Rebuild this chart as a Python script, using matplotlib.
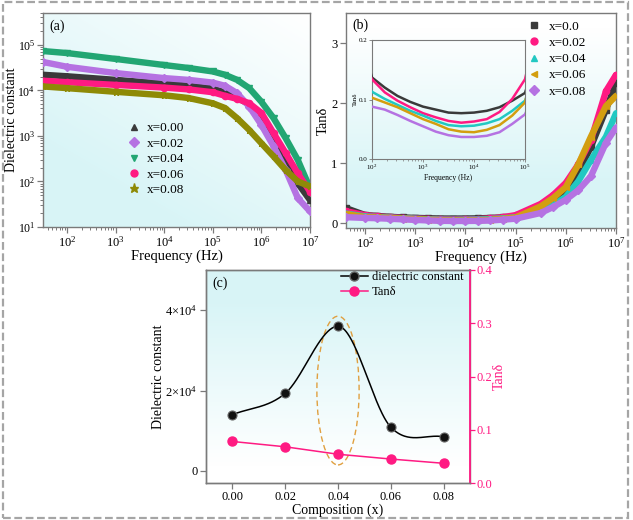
import numpy as np
import matplotlib
matplotlib.use('Agg')
import matplotlib.pyplot as plt
from matplotlib.lines import Line2D
from matplotlib.patches import Ellipse, Rectangle
import matplotlib.ticker as mt

plt.rcParams['font.family'] = ['Liberation Serif', 'DejaVu Serif']
plt.rcParams['mathtext.fontset'] = 'stix'

# ---------------- data ----------------
# (a) dielectric constant vs frequency
freq_a = [32, 100, 1e3, 1e4, 3.16e4, 1e5, 1.78e5, 3.16e5, 5.62e5, 1e6, 1.78e6, 3.16e6, 5.62e6, 1e7]
eps_000 = [2.2e4, 2.04e4, 1.7e4, 1.41e4, 1.26e4, 1.1e4, 8.9e3, 7.2e3, 4.8e3, 2.24e3, 890, 295, 91, 39]
eps_002 = [4.2e4, 3.3e4, 2.4e4, 1.86e4, 1.7e4, 1.48e4, 1.26e4, 8.7e3, 4.4e3, 1.74e3, 590, 178, 43, 22]
eps_004 = [7.3e4, 6.6e4, 4.9e4, 3.6e4, 3.1e4, 2.6e4, 2.2e4, 1.7e4, 1.12e4, 5.6e3, 2.45e3, 890, 295, 71]
eps_006 = [1.63e4, 1.51e4, 1.32e4, 1.15e4, 1.05e4, 9.1e3, 7.6e3, 6.5e3, 5.2e3, 3.2e3, 1.15e3, 420, 150, 60]
eps_008 = [1.22e4, 1.12e4, 9.3e3, 7.8e3, 6.8e3, 5.2e3, 4.1e3, 2.45e3, 1.35e3, 690, 355, 178, 100, 78]
labels_a = ['x=0.00', 'x=0.02', 'x=0.04', 'x=0.06', 'x=0.08']

# (b) tan delta vs frequency
freq_b = [42, 100, 178, 316, 562, 1e3, 1.78e3, 3.16e3, 5.62e3, 1e4, 1.78e4, 3.16e4, 5.62e4, 1e5,
          3.16e5, 5.62e5, 1e6, 1.78e6, 3.16e6, 6.31e6, 1e7]
tan_00 = [0.25, 0.137, 0.120, 0.106, 0.096, 0.088, 0.083, 0.078, 0.077, 0.078, 0.081, 0.087, 0.098, 0.111,
          0.25, 0.38, 0.55, 0.85, 1.27, 1.89, 2.33]
tan_02 = [0.20, 0.134, 0.112, 0.098, 0.087, 0.077, 0.070, 0.064, 0.061, 0.063, 0.067, 0.079, 0.101, 0.134,
          0.32, 0.47, 0.67, 0.98, 1.38, 2.20, 2.47]
tan_04 = [0.16, 0.113, 0.101, 0.091, 0.081, 0.073, 0.064, 0.057, 0.055, 0.056, 0.060, 0.067, 0.081, 0.098,
          0.20, 0.30, 0.44, 0.70, 1.05, 1.44, 1.83]
tan_06 = [0.15, 0.103, 0.095, 0.087, 0.077, 0.067, 0.059, 0.050, 0.046, 0.045, 0.049, 0.057, 0.073, 0.095,
          0.28, 0.42, 0.60, 0.98, 1.44, 1.95, 2.12]
tan_08 = [0.10, 0.088, 0.083, 0.074, 0.064, 0.055, 0.046, 0.040, 0.037, 0.037, 0.039, 0.045, 0.059, 0.075,
          0.17, 0.27, 0.39, 0.55, 0.78, 1.34, 1.59]
labels_b = ['x=0.0', 'x=0.02', 'x=0.04', 'x=0.06', 'x=0.08']

# (c) composition dependence
comp = [0.00, 0.02, 0.04, 0.06, 0.08]
eps_c = [14000, 19300, 36000, 10900, 8500]
tan_c = [0.078, 0.068, 0.054, 0.045, 0.037]

# ---------------- style ----------------
SPINE = '#7a7a7a'
C_BLK = '#3a3a3a'
C_PUR = '#B572E2'
C_GRN = '#22A673'
C_PNK = '#FF1A82'
C_OLV = '#8E8A06'
C_CYN = '#22C8C2'
C_GLD = '#D39E10'
CYAN_BG = np.array([0.85, 0.96, 0.968])


def smooth_curve(x, y, n=300):
    """Cardinal (Catmull-Rom) Hermite curve through the points, flat at local extrema."""
    x = np.asarray(x, float); y = np.asarray(y, float)
    m = len(x)
    t = np.zeros(m)
    t[0] = (y[1] - y[0]) / (x[1] - x[0])
    t[-1] = (y[-1] - y[-2]) / (x[-1] - x[-2])
    for i in range(1, m - 1):
        if (y[i] - y[i - 1]) * (y[i + 1] - y[i]) <= 0:
            t[i] = 0.0
        else:
            t[i] = (y[i + 1] - y[i - 1]) / (x[i + 1] - x[i - 1])
    xs = np.linspace(x[0], x[-1], n)
    idx = np.clip(np.searchsorted(x, xs) - 1, 0, m - 2)
    h = x[idx + 1] - x[idx]
    s = (xs - x[idx]) / h
    h00 = 2 * s ** 3 - 3 * s ** 2 + 1
    h10 = s ** 3 - 2 * s ** 2 + s
    h01 = -2 * s ** 3 + 3 * s ** 2
    h11 = s ** 3 - s ** 2
    ys = h00 * y[idx] + h10 * h * t[idx] + h01 * y[idx + 1] + h11 * h * t[idx + 1]
    return xs, ys


def bg(pos, mode):
    axb = fig.add_axes(pos, zorder=-5)
    axb.set_axis_off()
    n = 120
    yy, xx = np.mgrid[0:1:n * 1j, 0:1:n * 1j]
    if mode == 'diag':
        t = np.clip((1 - xx) * 0.55 + (1 - yy) * 0.75, 0, 1)
    elif mode == 'up':
        t = np.clip((1 - yy) * 1.4 - 0.1, 0, 1)
    else:
        t = np.clip(yy * 1.3 - 0.1, 0, 1)
    img = np.ones(3)[None, None, :] * (1 - t[..., None]) + CYAN_BG[None, None, :] * t[..., None]
    axb.imshow(img, extent=[0, 1, 0, 1], origin='lower', aspect='auto', interpolation='bilinear')
    axb.set_xlim(0, 1); axb.set_ylim(0, 1)


def style(ax, fs=9.0):
    for s in ax.spines.values():
        s.set_color(SPINE); s.set_linewidth(1.0)
    ax.tick_params(which='both', direction='out', color=SPINE, labelsize=fs, pad=2)
    ax.tick_params(which='major', length=4, width=0.9)
    ax.tick_params(which='minor', length=2.2, width=0.7)
    ax.tick_params(top=False, right=False)


fig = plt.figure(figsize=(6.33, 5.2), dpi=100)

# border
fig.patches.append(Rectangle((3 / 633, 2.5 / 520), 625 / 633, 515.5 / 520, transform=fig.transFigure,
                             fill=False, edgecolor='#a5a5a5', linewidth=1.6,
                             linestyle=(0, (3.5, 1.6)), zorder=10))

# ---------------- (a) ----------------
pos_a = [43 / 633, 1 - 227 / 520, 267 / 633, 214 / 520]
bg(pos_a, 'diag')
ax_a = fig.add_axes(pos_a)
ax_a.patch.set_alpha(0)
series_a = [(eps_000, C_BLK, '^'), (eps_002, C_PUR, 'D'), (eps_004, C_GRN, 'v'),
            (eps_006, C_PNK, 'o'), (eps_008, C_OLV, '*')]
handles = []
for (vals, col, mk), lab in zip(series_a, labels_a):
    ax_a.plot(freq_a, vals, '-', color=col, lw=4.6, solid_capstyle='round',
              marker=mk, ms=4.5, mec=col, mfc=col, zorder=3)
    handles.append(Line2D([], [], ls='none', marker=mk, color=col, ms=5 if mk != '*' else 6.5, label=lab))
ax_a.set_xscale('log'); ax_a.set_yscale('log')
ax_a.set_xlim(32, 1e7); ax_a.set_ylim(10, 5e5)
ax_a.set_xticks([1e2, 1e3, 1e4, 1e5, 1e6, 1e7])
ax_a.set_yticks([1e1, 1e2, 1e3, 1e4, 1e5])
style(ax_a)
ax_a.tick_params(axis='y', labelsize=8.5, pad=1.5)
ax_a.set_xlabel('Frequency (Hz)', fontsize=10.5, labelpad=0)
ax_a.set_ylabel('Dielectric constant', fontsize=10)
ax_a.yaxis.set_label_coords(-0.092, 0.5)
ax_a.text(0.025, 0.94, '(a)', transform=ax_a.transAxes, fontsize=10, va='center')
ax_a.legend(handles=handles, loc='upper left', bbox_to_anchor=(0.315, 0.49), frameon=False,
            fontsize=9.5, handlelength=1.0, handletextpad=0.5, labelspacing=0.24, borderpad=0,
            borderaxespad=0)

# ---------------- (b) ----------------
pos_b = [346 / 633, 1 - 228 / 520, 270 / 633, 215 / 520]
bg(pos_b, 'up')
ax_b = fig.add_axes(pos_b)
ax_b.patch.set_alpha(0)
series_b = [(tan_00, C_BLK, 's'), (tan_02, C_PNK, 'o'), (tan_04, C_CYN, '^'),
            (tan_06, C_GLD, '<'), (tan_08, C_PUR, 'D')]
handles_b = []
for (vals, col, mk), lab in zip(series_b, labels_b):
    ax_b.plot(freq_b, vals, '-', color=col, lw=4.6, solid_capstyle='round',
              marker=mk, ms=4.5, mec=col, mfc=col, zorder=3)
    handles_b.append(Line2D([], [], ls='none', marker=mk, color=col, ms=5, label=lab))
ax_b.set_xscale('log')
ax_b.set_xlim(42, 1e7); ax_b.set_ylim(-0.08, 3.5)
ax_b.set_xticks([1e2, 1e3, 1e4, 1e5, 1e6, 1e7])
ax_b.set_yticks([0, 1, 2, 3])
style(ax_b)
ax_b.set_xlabel('Frequency (Hz)', fontsize=10.5, labelpad=0)
ax_b.set_ylabel('Tanδ', fontsize=10.5)
ax_b.yaxis.set_label_coords(-0.06, 0.5)
ax_b.text(0.022, 0.944, '(b)', transform=ax_b.transAxes, fontsize=10, va='center')
ax_b.legend(handles=handles_b, loc='upper left', bbox_to_anchor=(0.672, 0.965), frameon=False,
            fontsize=9.5, handlelength=1.0, handletextpad=0.6, labelspacing=0.3, borderpad=0,
            borderaxespad=0)

# inset
ax_i = fig.add_axes([372 / 633, 1 - 159 / 520, 153 / 633, 119 / 520])
ax_i.patch.set_alpha(0)
for (vals, col, mk) in series_b:
    ax_i.plot(freq_b, vals, '-', color=col, lw=1.8, zorder=3)
ax_i.set_xscale('log')
ax_i.set_xlim(1e2, 1e5); ax_i.set_ylim(0, 0.2)
ax_i.set_xticks([1e2, 1e3, 1e4, 1e5])
ax_i.set_yticks([0.0, 0.1, 0.2])
ax_i.yaxis.set_major_formatter(mt.FormatStrFormatter('%.1f'))
for s in ax_i.spines.values():
    s.set_color(SPINE); s.set_linewidth(0.8)
ax_i.tick_params(which='both', direction='out', color=SPINE, labelsize=5, length=2, width=0.6, pad=1)
ax_i.tick_params(which='minor', length=1.2, width=0.5)
ax_i.set_xlabel('Frequency (Hz)', fontsize=5.5, labelpad=1)
ax_i.set_ylabel('Tanδ', fontsize=5, labelpad=1)

# ---------------- (c) ----------------
pos_c = [206 / 633, 1 - 483 / 520, 264 / 633, 213 / 520]
bg(pos_c, 'down')
ax_c = fig.add_axes(pos_c)
ax_c.patch.set_alpha(0)
xs, ys = smooth_curve(comp, eps_c)
ax_c.plot(xs, ys, '-', color='black', lw=1.1, zorder=3)
ax_c.plot(comp, eps_c, 'o', ms=6.5, mfc='#111111', mec='#666666', mew=0.8, zorder=4)
ax_c.add_patch(Ellipse((0.04, 20000), 0.016, 37000, fill=False, edgecolor='#E0A040',
                       linestyle=(0, (4, 2.5)), linewidth=1.0, zorder=2))
ax_c.set_xlim(-0.01, 0.09); ax_c.set_ylim(-3000, 50000)
ax_c.set_xticks(comp)
ax_c.xaxis.set_major_formatter(mt.FormatStrFormatter('%.2f'))
ax_c.set_yticks([0, 20000, 40000])
ax_c.set_yticklabels(['0', r'$\mathdefault{2{\times}10^{4}}$', r'$\mathdefault{4{\times}10^{4}}$'])
style(ax_c, fs=9.0)
ax_c.set_xlabel('Composition (x)', fontsize=10, labelpad=0)
ax_c.set_ylabel('Dielectric constant', fontsize=10)
ax_c.yaxis.set_label_coords(-0.155, 0.5)
ax_c.text(0.023, 0.94, '(c)', transform=ax_c.transAxes, fontsize=10, va='center')

ax_r = ax_c.twinx()
ax_r.plot(comp, tan_c, '-', color=C_PNK, lw=1.1, zorder=3)
ax_r.plot(comp, tan_c, 'o', ms=6.5, color=C_PNK, zorder=4)
ax_r.set_ylim(0, 0.4)
ax_r.set_yticks([0.0, 0.1, 0.2, 0.3, 0.4])
ax_r.yaxis.set_major_formatter(mt.FormatStrFormatter('%.1f'))
for s in ax_r.spines.values():
    s.set_color(SPINE); s.set_linewidth(1.0)
ax_r.spines['right'].set_color(C_PNK); ax_r.spines['right'].set_linewidth(1.3)
ax_r.tick_params(axis='y', direction='out', color=C_PNK, labelcolor=C_PNK, labelsize=9.0,
                 length=3.5, width=0.9, pad=1.5)
ax_r.set_ylabel('Tanδ', fontsize=10, color=C_PNK)
ax_r.yaxis.set_label_coords(1.088, 0.5)

hc = [Line2D([], [], color='black', lw=1.1, marker='o', ms=6.5, mfc='#111111', mec='#666666', label='dielectric constant'),
      Line2D([], [], color=C_PNK, lw=1.1, marker='o', ms=6.5, label='Tanδ')]
ax_r.legend(handles=hc, loc='upper left', bbox_to_anchor=(0.505, 1.0), frameon=False, fontsize=9,
            handlelength=2.2, handletextpad=0.3, labelspacing=0.25, borderpad=0.1, borderaxespad=0)

fig.savefig('out.png', dpi=100)
